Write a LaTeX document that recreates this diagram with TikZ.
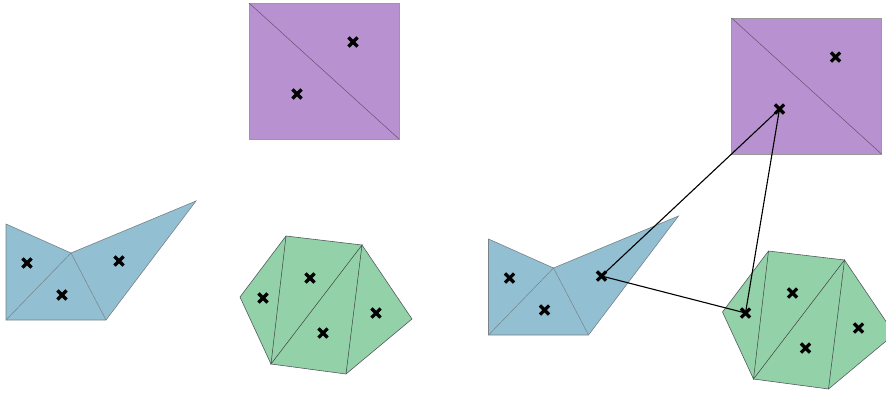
\documentclass[tikz,border=0pt]{standalone}
\definecolor{bluefill}{RGB}{147,191,210}
\definecolor{greenfill}{RGB}{147,209,168}
\definecolor{purplefill}{RGB}{184,146,208}
\definecolor{edgegray}{RGB}{120,130,135}
\tikzset{
  xmark/.style={rectangle,minimum size=16pt,inner sep=0pt,
    path picture={
      \draw[black,line width=3.2pt,line cap=butt]
        ([shift={(-4.6pt,-4.6pt)}]path picture bounding box.center) --
        ([shift={(4.6pt,4.6pt)}]path picture bounding box.center)
        ([shift={(-4.6pt,4.6pt)}]path picture bounding box.center) --
        ([shift={(4.6pt,-4.6pt)}]path picture bounding box.center);
    }},
  bluepoly/.style={fill=bluefill,draw=edgegray,line width=0.6pt},
  greenpoly/.style={fill=greenfill,draw=edgegray!70!black,line width=0.6pt},
  purplepoly/.style={fill=purplefill,draw=gray!80,line width=0.6pt},
  inner edge/.style={line width=0.5pt},
  link/.style={draw=black,line width=1.1pt}
}
\newcommand\drawscene[1]{%
  % blue
  \draw[bluepoly] (6,224) -- (71,253) -- (196,201) -- (106,320) -- (6,320) -- cycle;
  \draw[inner edge,draw=edgegray] (6,320) -- (71,253) -- (106,320);
  \node[xmark] (#1b1) at (27,263) {};
  \node[xmark] (#1b2) at (62,295) {};
  \node[xmark] (#1b3) at (119,261) {};
  % green
  \draw[greenpoly] (286,236) -- (362,245) -- (412,319) -- (346,374) -- (271,364) -- (240,297) -- cycle;
  \draw[inner edge,draw=black!75] (286,236) -- (271,364) -- (362,245) -- (346,374);
  \node[xmark] (#1g1) at (263,298) {};
  \node[xmark] (#1g2) at (310,278) {};
  \node[xmark] (#1g3) at (323,333) {};
  \node[xmark] (#1g4) at (376,313) {};
  % purple
  \draw[purplepoly] (249,3) rectangle (399,139);
  \draw[inner edge,draw=purplefill!55!black] (249,3) -- (399,139);
  \node[xmark] (#1p1) at (353,42) {};
  \node[xmark] (#1p2) at (297,94) {};
}
\begin{document}
\begin{tikzpicture}[x=1pt,y=-1pt]
  \useasboundingbox (0,0) rectangle (886,392);
  \drawscene{L}
  \begin{scope}[shift={(482.5,15)}]
    \drawscene{R}
  \end{scope}
  \draw[link] (Rb3.center) -- (Rp2.center);
  \draw[link] (Rp2.center) -- (Rg1.center);
  \draw[link] (Rb3.center) -- (Rg1.center);
\end{tikzpicture}
\end{document}
